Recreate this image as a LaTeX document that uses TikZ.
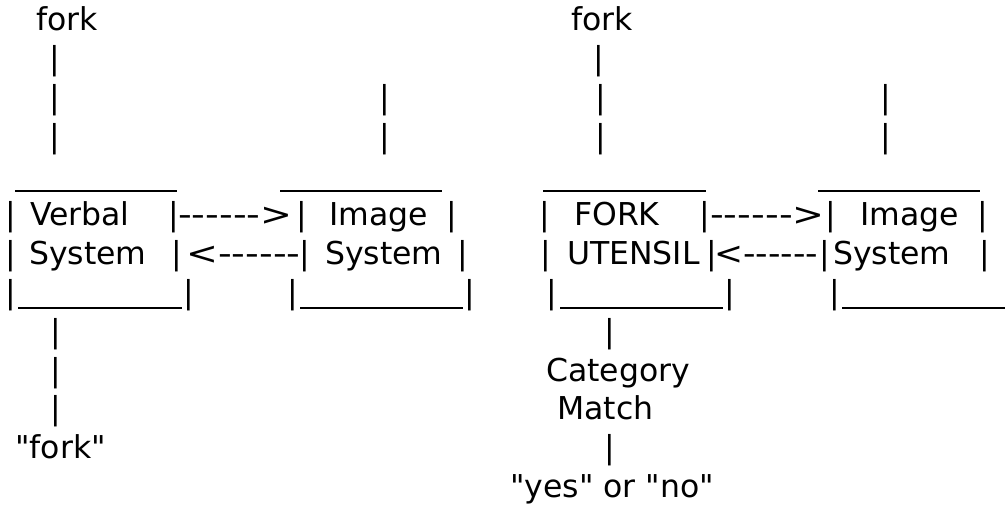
\documentclass[tikz,border=0pt]{standalone}
\usepackage{graphicx}
\usepackage{fontspec}
\setmainfont{DejaVu Sans}[Ligatures=TeXOff]
\newcommand{\arrowtxt}[2][1.21]{\scalebox{#1}[1]{#2}}
\tikzset{
  txt/.style={anchor=base west, inner sep=0pt, font=\fontsize{31.5}{38.9}\selectfont},
  bar/.style={anchor=base, inner sep=0pt, font=\fontsize{31.5}{38.9}\selectfont},
  uline/.style={line width=1.8pt},
}
\begin{document}
\begin{tikzpicture}[x=1pt,y=-1pt]
	\useasboundingbox (0,0) rectangle (1005,510);
	% top labels and stems
	\node[txt] (forkL) at (36,31) {fork};
	\node[txt] (forkR) at (571,31) {fork};
	\node[bar] (stemL2) at (55,69.9) {|};
	\node[bar] (stemR2) at (599,69.9) {|};
	\foreach \k/\y in {3/108.8,4/147.7} {
		\node[bar] (stemL\k) at (55,\y) {|};
		\node[bar] (stemIL\k) at (385,\y) {|};
		\node[bar] (stemR\k) at (601,\y) {|};
		\node[bar] (stemIR\k) at (886,\y) {|};
	}
	% box tops
	\draw[uline] (15,191) -- (177,191);
	\draw[uline] (280,191) -- (442,191);
	\draw[uline] (543,191) -- (706,191);
	\draw[uline] (818,191) -- (980,191);
	% first box row
	\node[bar] (verbalA) at (10.5,225.5) {|};
	\node[txt] (verbal) at (30,225.5) {Verbal};
	\node[bar] (verbalB) at (173.5,225.5) {|};
	\node[txt] (toImgL) at (178,225.5) {\arrowtxt{------>}};
	\node[bar] (imgLA) at (301.5,225.5) {|};
	\node[txt] (imgL) at (329,225.5) {Image};
	\node[bar] (imgLB) at (452,225.5) {|};
	\node[bar] (forkBoxA) at (544.5,225.5) {|};
	\node[txt] (forkCap) at (574,225.5) {FORK};
	\node[bar] (forkBoxB) at (704.5,225.5) {|};
	\node[txt] (toImgR) at (710,225.5) {\arrowtxt{------>}};
	\node[bar] (imgRA) at (830.5,225.5) {|};
	\node[txt] (imgR) at (860,225.5) {Image};
	\node[bar] (imgRB) at (982.5,225.5) {|};
	% second box row
	\node[bar] (sysA) at (10.5,264.4) {|};
	\node[txt] (sysVerbal) at (29,264.4) {System};
	\node[bar] (sysB) at (177,264.4) {|};
	\node[txt] (toVerbal) at (186,264.4) {\arrowtxt{<------}};
	\node[bar] (sysImgLA) at (305,264.4) {|};
	\node[txt] (sysImgL) at (325,264.4) {System};
	\node[bar] (sysImgLB) at (463,264.4) {|};
	\node[bar] (utensilA) at (545.5,264.4) {|};
	\node[txt] (utensil) at (567,264.4) {UTENSIL};
	\node[bar] (utensilB) at (711.5,264.4) {|};
	\node[txt] (toUtensil) at (714,264.4) {\arrowtxt[1.1]{<------}};
	\node[bar] (sysImgRA) at (824.5,264.4) {|};
	\node[txt] (sysImgR) at (833,264.4) {System};
	\node[bar] (sysImgRB) at (984.5,264.4) {|};
	% box bottoms
	\node[bar] (botLA) at (10.5,303.3) {|};
	\draw[uline] (18,308) -- (182,308);
	\node[bar] (botLB) at (189,303.3) {|};
	\node[bar] (botIA) at (293,303.3) {|};
	\draw[uline] (300,308) -- (463,308);
	\node[bar] (botIB) at (470,303.3) {|};
	\node[bar] (botRA) at (552,303.3) {|};
	\draw[uline] (560,308) -- (723,308);
	\node[bar] (botRB) at (730,303.3) {|};
	\node[bar] (botJA) at (835,303.3) {|};
	\draw[uline] (842,308) -- (1005,308);
	% outputs
	\foreach \k/\y in {9/342.2,10/381.1,11/420} {
		\node[bar] (outL\k) at (55.5,\y) {|};
	}
	\node[txt] (sayFork) at (15,458.9) {"fork"};
	\node[bar] (outR9) at (609.5,342.2) {|};
	\node[txt] (category) at (546,381.1) {Category};
	\node[txt] (match) at (557,420) {Match};
	\node[bar] (outR12) at (609.5,458.9) {|};
	\node[txt] (answer) at (510,497.8) {"yes" or "no"};
\end{tikzpicture}
\end{document}
